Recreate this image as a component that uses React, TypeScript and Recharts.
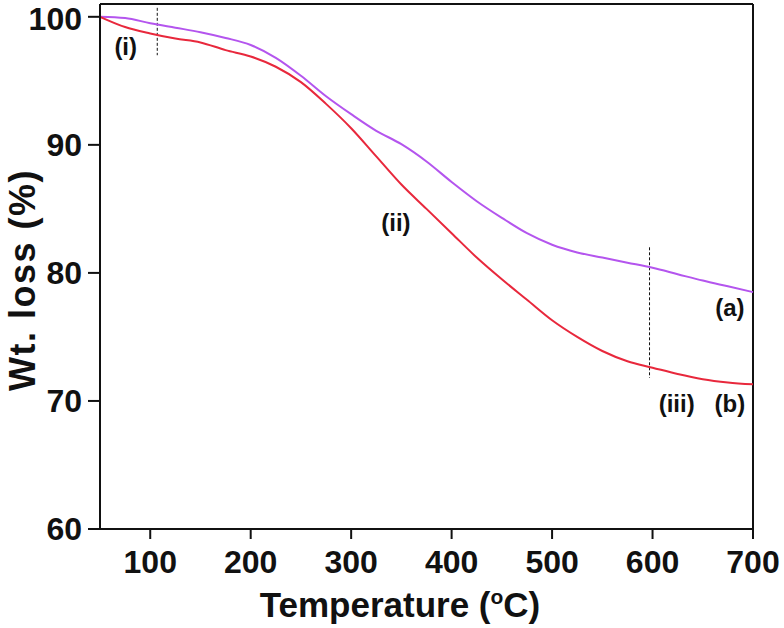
import React from "react";
import {
  LineChart,
  Line,
  XAxis,
  YAxis,
  ReferenceLine,
  ReferenceDot,
} from "recharts";

// temperature grid (°C)
const temperatures = [
  50, 75, 100, 125, 150, 175, 200, 225, 250, 275, 300, 325, 350, 375, 400,
  425, 450, 475, 500, 525, 550, 575, 600, 625, 650, 675, 700,
];

// (a) purple curve, wt %
const sampleA = [
  100, 99.9, 99.5, 99.15, 98.8, 98.35, 97.8, 96.8, 95.4, 93.8, 92.4, 91.1,
  90.05, 88.7, 87.1, 85.6, 84.3, 83.1, 82.2, 81.6, 81.2, 80.8, 80.4, 79.9,
  79.4, 78.95, 78.5,
];

// (b) red curve, wt %
const sampleB = [
  100, 99.2, 98.7, 98.3, 98.0, 97.4, 96.9, 96.1, 94.9, 93.2, 91.3, 89.1, 86.9,
  85.0, 83.1, 81.2, 79.5, 77.9, 76.3, 75.0, 73.9, 73.1, 72.6, 72.1, 71.7,
  71.45, 71.3,
];

const xTicks = [100, 200, 300, 400, 500, 600, 700];
const yTicks = [60, 70, 80, 90, 100];

const data = temperatures.map((t, i) => ({ t, a: sampleA[i], b: sampleB[i] }));

const FONT = "'Liberation Sans', Arial, sans-serif";
const PURPLE = "#b455ee";
const RED = "#e8283c";

const tickStyle = { fontSize: 32, fontWeight: 700, fill: "#111", fontFamily: FONT };
const noteStyle = { fontSize: 24, fontWeight: 700, fill: "#111", fontFamily: FONT };

const XTitle = () => (
  <text x={400} y={617} textAnchor="middle" style={{ ...tickStyle, fontSize: 35 }}>
    Temperature (
    <tspan dy={-13} fontSize={21}>o</tspan>
    <tspan dy={13}>C)</tspan>
  </text>
);

const YTitle = () => {
  const x = 35;
  const y = 280;
  return (
    <text
      x={x}
      y={y}
      textAnchor="middle"
      transform={`rotate(-90, ${x}, ${y})`}
      style={{ ...tickStyle, fontSize: 36, letterSpacing: 1.5 }}
    >
      Wt. loss (%)
    </text>
  );
};

const note = (text: string) => ({ viewBox }: any) => (
  <text
    x={viewBox.x + (viewBox.width || 0) / 2}
    y={viewBox.y + (viewBox.height || 0) / 2}
    textAnchor="middle"
    dominantBaseline="central"
    style={noteStyle}
  >
    {text}
  </text>
);

export default function App() {
  return (
    <div style={{ position: "absolute", left: 0, top: 0, background: "#fff" }}>
      <LineChart
        width={784}
        height={628}
        data={data}
        margin={{ top: 4, right: 31, left: 0, bottom: 0 }}
      >
        <XAxis
          dataKey="t"
          type="number"
          domain={[50, 700]}
          ticks={xTicks}
          height={99}
          tickSize={10}
          tickMargin={11}
          tick={tickStyle}
          axisLine={{ stroke: "#111", strokeWidth: 2 }}
          tickLine={{ stroke: "#111", strokeWidth: 2 }}
          label={{ content: XTitle }}
        />
        <YAxis
          type="number"
          domain={[60, 101]}
          ticks={yTicks}
          width={100}
          tickSize={12}
          tickMargin={6}
          tick={tickStyle}
          axisLine={{ stroke: "#111", strokeWidth: 2 }}
          tickLine={{ stroke: "#111", strokeWidth: 2 }}
          label={{ content: YTitle }}
        />
        <ReferenceLine y={101} stroke="#111" strokeWidth={2} />
        <ReferenceLine x={700} stroke="#111" strokeWidth={2} />
        <ReferenceLine
          segment={[{ x: 107, y: 100.7 }, { x: 107, y: 97 }]}
          stroke="#111"
          strokeWidth={1}
          strokeDasharray="3 2"
        />
        <ReferenceLine
          segment={[{ x: 597, y: 82 }, { x: 597, y: 71.8 }]}
          stroke="#111"
          strokeWidth={1}
          strokeDasharray="3 2"
        />
        <Line
          dataKey="a"
          type="monotone"
          stroke={PURPLE}
          strokeWidth={2}
          dot={false}
          isAnimationActive={false}
        />
        <Line
          dataKey="b"
          type="monotone"
          stroke={RED}
          strokeWidth={2}
          dot={false}
          isAnimationActive={false}
        />
        <ReferenceDot x={75.6} y={97.7} r={0} label={{ content: note("(i)") }} />
        <ReferenceDot x={344.6} y={83.9} r={0} label={{ content: note("(ii)") }} />
        <ReferenceDot x={624} y={69.8} r={0} label={{ content: note("(iii)") }} />
        <ReferenceDot x={677} y={69.8} r={0} label={{ content: note("(b)") }} />
        <ReferenceDot x={677} y={77.3} r={0} label={{ content: note("(a)") }} />
      </LineChart>
    </div>
  );
}
